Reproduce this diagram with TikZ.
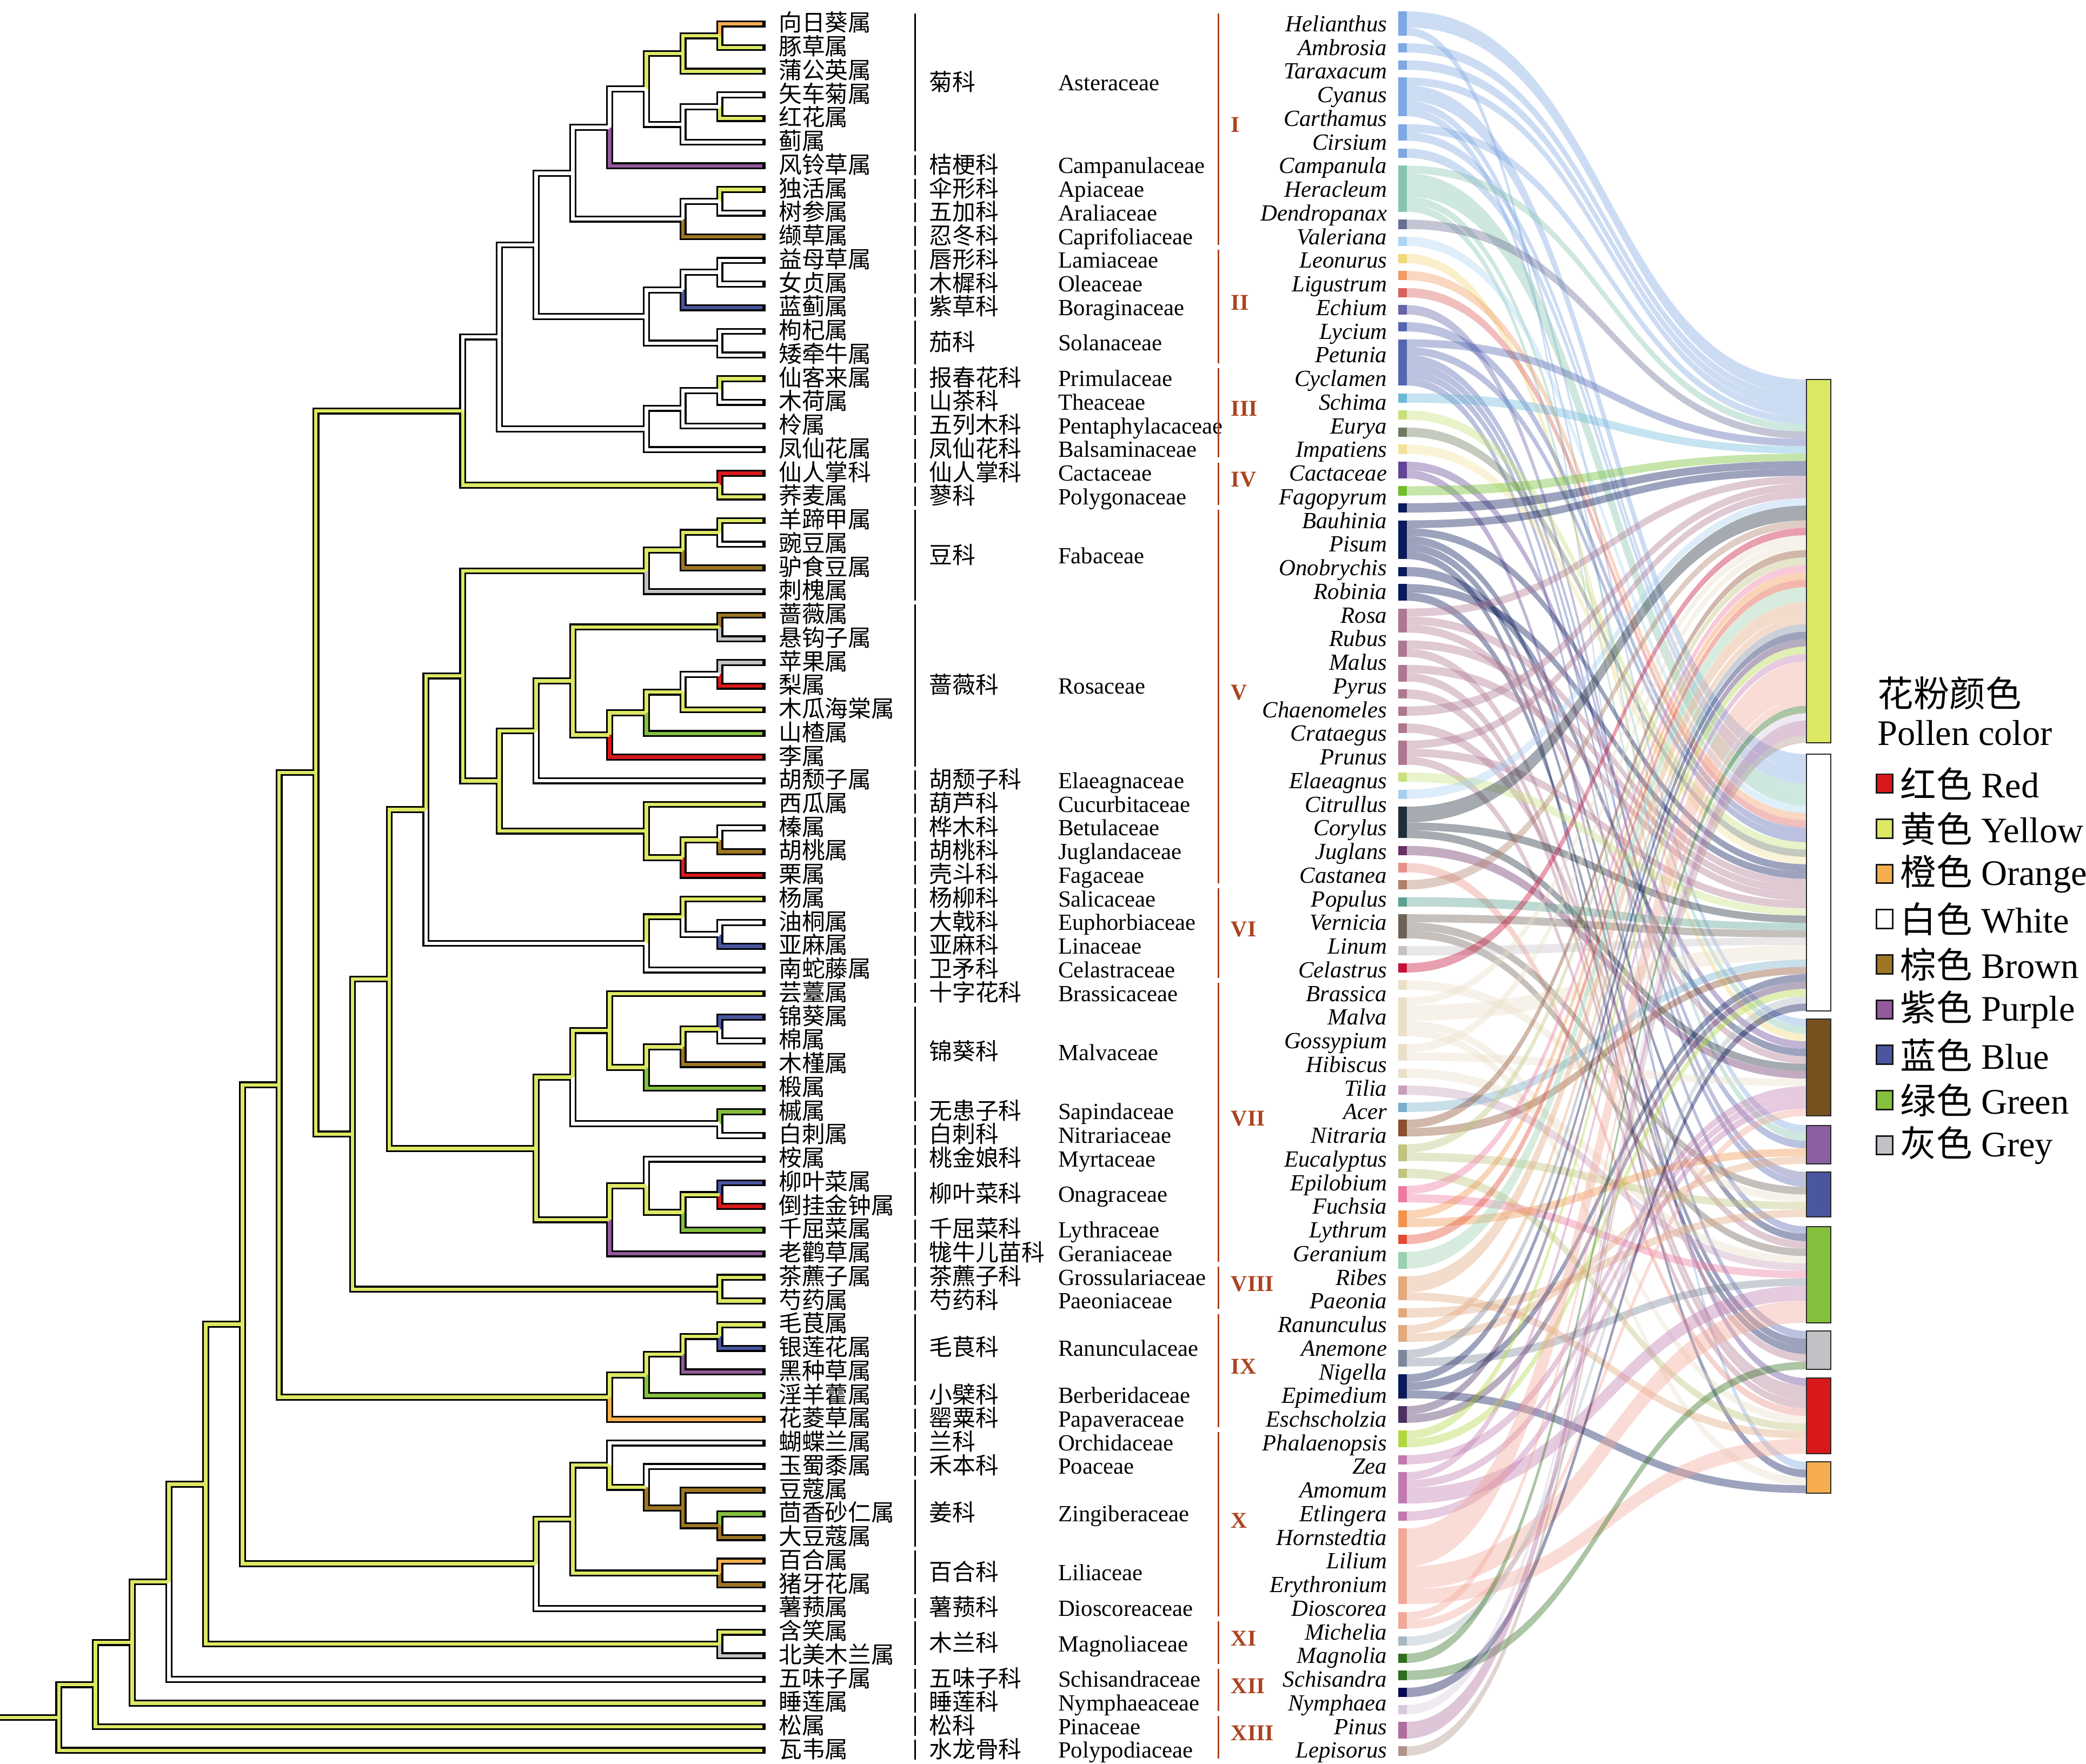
\documentclass[tikz,border=0pt]{standalone}
\usepackage{fontspec}
\setmainfont{Liberation Serif}
\newfontfamily\cjk{Noto Sans CJK SC}
\usepackage{tikz}
\usetikzlibrary{calc, positioning}

% pollen colours
\definecolor{pY}{RGB}{221,232,100}
\definecolor{pW}{RGB}{255,255,255}
\definecolor{pO}{RGB}{245,173,78}
\definecolor{pR}{RGB}{215,25,28}
\definecolor{pBr}{RGB}{158,118,35}
\definecolor{pP}{RGB}{146,90,154}
\definecolor{pB}{RGB}{74,86,160}
\definecolor{pG}{RGB}{132,192,60}
\definecolor{pGr}{RGB}{194,194,198}
\colorlet{barY}{pY}\colorlet{barW}{pW}\colorlet{barO}{pO}\colorlet{barR}{pR}
\definecolor{barBr}{RGB}{118,80,30}
\definecolor{barP}{RGB}{140,95,160}
\colorlet{barB}{pB}\colorlet{barG}{pG}\colorlet{barGr}{pGr}
\definecolor{romanc}{RGB}{172,68,32}
% family colours of the genus blocks
\definecolor{cAst}{RGB}{127,167,225}
\definecolor{cCam}{RGB}{136,197,176}
\definecolor{cApi}{RGB}{104,110,148}
\definecolor{cAra}{RGB}{173,212,243}
\definecolor{cCap}{RGB}{240,216,120}
\definecolor{cLam}{RGB}{240,154,100}
\definecolor{cOle}{RGB}{217,96,90}
\definecolor{cBor}{RGB}{102,99,168}
\definecolor{cSol}{RGB}{85,102,176}
\definecolor{cPri}{RGB}{111,184,218}
\definecolor{cThe}{RGB}{200,224,122}
\definecolor{cPen}{RGB}{110,122,94}
\definecolor{cBal}{RGB}{242,226,154}
\definecolor{cCac}{RGB}{99,68,150}
\definecolor{cPol}{RGB}{112,190,42}
\definecolor{cFab}{RGB}{10,26,90}
\definecolor{cRos}{RGB}{174,120,144}
\definecolor{cEla}{RGB}{201,224,127}
\definecolor{cCuc}{RGB}{169,207,239}
\definecolor{cBet}{RGB}{30,46,58}
\definecolor{cJug}{RGB}{106,47,101}
\definecolor{cFag}{RGB}{232,144,136}
\definecolor{cSal}{RGB}{176,127,104}
\definecolor{cEup}{RGB}{90,160,144}
\definecolor{cLin}{RGB}{110,98,87}
\definecolor{cCel}{RGB}{200,194,200}
\definecolor{cBra}{RGB}{197,16,58}
\definecolor{cMal}{RGB}{234,223,200}
\definecolor{cSap}{RGB}{200,160,188}
\definecolor{cNit}{RGB}{120,174,203}
\definecolor{cMyr}{RGB}{139,78,46}
\definecolor{cOna}{RGB}{191,196,126}
\definecolor{cLyt}{RGB}{238,122,159}
\definecolor{cGer}{RGB}{242,147,76}
\definecolor{cGro}{RGB}{226,74,50}
\definecolor{cPae}{RGB}{154,207,176}
\definecolor{cRan}{RGB}{226,168,126}
\definecolor{cBer}{RGB}{126,136,156}
\definecolor{cPap}{RGB}{10,26,90}
\definecolor{cOrc}{RGB}{75,48,96}
\definecolor{cPoa}{RGB}{178,216,64}
\definecolor{cZin}{RGB}{192,122,175}
\definecolor{cLil}{RGB}{242,168,152}
\definecolor{cDio}{RGB}{168,182,192}
\definecolor{cMag}{RGB}{47,110,30}
\definecolor{cSch}{RGB}{5,10,80}
\definecolor{cNym}{RGB}{216,200,220}
\definecolor{cPin}{RGB}{174,110,158}
\definecolor{cPly}{RGB}{176,148,136}

\tikzset{
  brout/.style={line width=2.6pt, draw=black, line cap=rect, line join=miter},
  brin/.style={line width=1.3pt, line cap=butt, line join=miter},
  zhname/.style={anchor=west, inner sep=0pt, font=\cjk\fontsize{8.7}{9}\selectfont, text height=1.55ex, text depth=.35ex},
  laname/.style={anchor=east, inner sep=0pt, font=\fontsize{8.7}{9}\selectfont\itshape, text height=1.6ex, text depth=.35ex},
  famzh/.style={anchor=west, inner sep=0pt, font=\cjk\fontsize{8.7}{9}\selectfont, text height=1.55ex, text depth=.35ex},
  famla/.style={anchor=west, inner sep=0pt, font=\fontsize{8.7}{9}\selectfont, text height=1.6ex, text depth=.35ex},
  famline/.style={line width=0.6pt},
  romline/.style={line width=0.6pt, draw=romanc},
  roman/.style={anchor=west, inner sep=0pt, text=romanc, font=\fontsize{8.5}{9}\selectfont\bfseries},
  flow/.style={fill opacity=.4},
  bar/.style={draw=black!85, line width=0.4pt},
  legbox/.style={draw=black!90, line width=0.6pt, minimum width=6pt, minimum height=7pt, inner sep=0pt},
  legtext/.style={anchor=west, inner sep=0pt, font=\fontsize{13.5}{14}\selectfont}
}

% clade: name, height level, first child, second child
\newcommand\clade[4]{%
  \coordinate (tmp) at ($(#3)!.5!(#4)$);
  \coordinate (#1) at (H#2 |- tmp);}

\begin{document}
\begin{tikzpicture}[x=0.5pt,y=0.5pt,yscale=-1]
\useasboundingbox (0,0) rectangle (1568,1326);

% levels and leaf tips
\coordinate (O) at (0,0);
\foreach \h in {1,...,19} \coordinate (H\h) at ({541-27.6*(\h-1)},0);
\foreach \i in {1,...,74} \coordinate (L\i) at (573,{17.78*\i+0.22});

% clades
\clade{a1}{1}{L1}{L2}
\clade{a2}{2}{a1}{L3}
\clade{a3}{1}{L4}{L5}
\clade{a4}{2}{a3}{L6}
\clade{a5}{3}{a2}{a4}
\clade{a6}{4}{a5}{L7}
\clade{a7}{1}{L8}{L9}
\clade{a8}{2}{a7}{L10}
\clade{a9}{5}{a6}{a8}
\clade{b1}{1}{L11}{L12}
\clade{b2}{2}{b1}{L13}
\clade{b3}{1}{L14}{L15}
\clade{b4}{3}{b2}{b3}
\clade{b5}{6}{a9}{b4}
\clade{c1}{1}{L16}{L17}
\clade{c2}{2}{c1}{L18}
\clade{c3}{3}{c2}{L19}
\clade{c4}{7}{b5}{c3}
\clade{d1}{1}{L20}{L21}
\clade{d2}{8}{c4}{d1}
\clade{e1}{1}{L22}{L23}
\clade{e2}{2}{e1}{L24}
\clade{e3}{3}{e2}{L25}
\clade{f1}{1}{L26}{L27}
\clade{f2}{1}{L28}{L29}
\clade{f3}{2}{f2}{L30}
\clade{f4}{3}{f3}{L31}
\clade{f5}{4}{f4}{L32}
\clade{f6}{5}{f1}{f5}
\clade{f7}{6}{f6}{L33}
\clade{g1}{1}{L35}{L36}
\clade{g2}{2}{g1}{L37}
\clade{g3}{3}{L34}{g2}
\clade{g4}{7}{f7}{g3}
\clade{g5}{8}{e3}{g4}
\clade{k1}{1}{L39}{L40}
\clade{k2}{2}{L38}{k1}
\clade{k3}{3}{k2}{L41}
\clade{k4}{9}{g5}{k3}
\clade{m1}{1}{L43}{L44}
\clade{m2}{2}{m1}{L45}
\clade{m3}{3}{m2}{L46}
\clade{m4}{4}{L42}{m3}
\clade{m5}{1}{L47}{L48}
\clade{m6}{5}{m4}{m5}
\clade{m7}{1}{L50}{L51}
\clade{m8}{2}{m7}{L52}
\clade{m9}{3}{L49}{m8}
\clade{m10}{4}{m9}{L53}
\clade{m11}{6}{m6}{m10}
\clade{r1}{10}{k4}{m11}
\clade{r2}{1}{L54}{L55}
\clade{r3}{11}{r1}{r2}
\clade{r4}{12}{d2}{r3}
\clade{s1}{1}{L56}{L57}
\clade{s2}{2}{s1}{L58}
\clade{s3}{3}{s2}{L59}
\clade{s4}{4}{s3}{L60}
\clade{s5}{13}{r4}{s4}
\clade{t1}{1}{L64}{L65}
\clade{t2}{2}{L63}{t1}
\clade{t3}{3}{L62}{t2}
\clade{t4}{4}{L61}{t3}
\clade{t5}{1}{L66}{L67}
\clade{t6}{5}{t4}{t5}
\clade{t7}{6}{t6}{L68}
\clade{t8}{14}{s5}{t7}
\clade{u1}{1}{L69}{L70}
\clade{u2}{15}{t8}{u1}
\clade{u3}{16}{u2}{L71}
\clade{u4}{17}{u3}{L72}
\clade{u5}{18}{u4}{L73}
\clade{u6}{19}{u5}{L74}
\coordinate (root) at (u6 -| O);

\def\branches{a1/L1/O, a1/L2/Y, a2/a1/Y, a2/L3/Y, a3/L4/W, a3/L5/Y, a4/a3/W, a4/L6/W,
  a5/a2/Y, a5/a4/W, a6/a5/W, a6/L7/P, a7/L8/Y, a7/L9/W, a8/a7/W, a8/L10/Br, a9/a6/W, a9/a8/W,
  b1/L11/W, b1/L12/W, b2/b1/W, b2/L13/B, b3/L14/W, b3/L15/W, b4/b2/W, b4/b3/W, b5/a9/W, b5/b4/W,
  c1/L16/Y, c1/L17/W, c2/c1/W, c2/L18/W, c3/c2/W, c3/L19/W, c4/b5/W, c4/c3/W,
  d1/L20/R, d1/L21/Y, d2/c4/W, d2/d1/Y,
  e1/L22/Y, e1/L23/W, e2/e1/Y, e2/L24/Br, e3/e2/Y, e3/L25/Gr,
  f1/L26/Br, f1/L27/Gr, f2/L28/Gr, f2/L29/R, f3/f2/W, f3/L30/Y, f4/f3/Y, f4/L31/G,
  f5/f4/Y, f5/L32/R, f6/f1/Y, f6/f5/Y, f7/f6/Y, f7/L33/W,
  g1/L35/W, g1/L36/Br, g2/g1/Y, g2/L37/R, g3/L34/Y, g3/g2/Y, g4/f7/Y, g4/g3/Y, g5/e3/Y, g5/g4/Y,
  k1/L39/W, k1/L40/B, k2/L38/Y, k2/k1/W, k3/k2/Y, k3/L41/W, k4/g5/Y, k4/k3/W,
  m1/L43/B, m1/L44/W, m2/m1/Y, m2/L45/Br, m3/m2/Y, m3/L46/G, m4/L42/Y, m4/m3/Y,
  m5/L47/G, m5/L48/W, m6/m4/Y, m6/m5/W, m7/L50/B, m7/L51/R, m8/m7/Y, m8/L52/G,
  m9/L49/W, m9/m8/Y, m10/m9/Y, m10/L53/P, m11/m6/Y, m11/m10/Y,
  r1/k4/Y, r1/m11/Y, r2/L54/Y, r2/L55/Y, r3/r1/Y, r3/r2/Y, r4/d2/Y, r4/r3/Y,
  s1/L56/Y, s1/L57/B, s2/s1/Y, s2/L58/P, s3/s2/Y, s3/L59/G, s4/s3/Y, s4/L60/O, s5/r4/Y, s5/s4/Y,
  t1/L64/G, t1/L65/Br, t2/L63/Br, t2/t1/Br, t3/L62/W, t3/t2/Br, t4/L61/W, t4/t3/Y,
  t5/L66/O, t5/L67/Br, t6/t4/Y, t6/t5/Y, t7/t6/Y, t7/L68/W, t8/s5/Y, t8/t7/Y,
  u1/L69/Y, u1/L70/Gr, u2/t8/Y, u2/u1/Y, u3/u2/Y, u3/L71/W, u4/u3/Y, u4/L72/Y,
  u5/u4/Y, u5/L73/Y, u6/u5/Y, u6/L74/Y, root/u6/Y}

% tree: black outline first, then the inner colour
\foreach \p/\q/\k in \branches {\draw[brout] (\p) |- (\q);}
\foreach \p/\q/\k in \branches {\draw[brin, draw=p\k] (\p) |- (\q);}

% genus names
\foreach \zh/\la [count=\i] in {向日葵属/Helianthus, 豚草属/Ambrosia, 蒲公英属/Taraxacum, 矢车菊属/Cyanus,
  红花属/Carthamus, 蓟属/Cirsium, 风铃草属/Campanula, 独活属/Heracleum, 树参属/Dendropanax,
  缬草属/Valeriana, 益母草属/Leonurus, 女贞属/Ligustrum, 蓝蓟属/Echium, 枸杞属/Lycium,
  矮牵牛属/Petunia, 仙客来属/Cyclamen, 木荷属/Schima, 柃属/Eurya, 凤仙花属/Impatiens,
  仙人掌科/Cactaceae, 荞麦属/Fagopyrum, 羊蹄甲属/Bauhinia, 豌豆属/Pisum, 驴食豆属/Onobrychis,
  刺槐属/Robinia, 蔷薇属/Rosa, 悬钩子属/Rubus, 苹果属/Malus, 梨属/Pyrus, 木瓜海棠属/Chaenomeles,
  山楂属/Crataegus, 李属/Prunus, 胡颓子属/Elaeagnus, 西瓜属/Citrullus, 榛属/Corylus,
  胡桃属/Juglans, 栗属/Castanea, 杨属/Populus, 油桐属/Vernicia, 亚麻属/Linum, 南蛇藤属/Celastrus,
  芸薹属/Brassica, 锦葵属/Malva, 棉属/Gossypium, 木槿属/Hibiscus, 椴属/Tilia, 槭属/Acer,
  白刺属/Nitraria, 桉属/Eucalyptus, 柳叶菜属/Epilobium, 倒挂金钟属/Fuchsia, 千屈菜属/Lythrum,
  老鹳草属/Geranium, 茶藨子属/Ribes, 芍药属/Paeonia, 毛茛属/Ranunculus, 银莲花属/Anemone,
  黑种草属/Nigella, 淫羊藿属/Epimedium, 花菱草属/Eschscholzia, 蝴蝶兰属/Phalaenopsis,
  玉蜀黍属/Zea, 豆蔻属/Amomum, 茴香砂仁属/Etlingera, 大豆蔻属/Hornstedtia, 百合属/Lilium,
  猪牙花属/Erythronium, 薯蓣属/Dioscorea, 含笑属/Michelia, 北美木兰属/Magnolia,
  五味子属/Schisandra, 睡莲属/Nymphaea, 松属/Pinus, 瓦韦属/Lepisorus}{
  \node[zhname] (zh\i) at (585,{17.78*\i+0.22}) {\zh};
  \node[laname] (la\i) at (1043,{17.78*\i+0.22}) {\la};
}

% families
\foreach \fa/\fb/\zh/\la [count=\i] in {1/6/菊科/Asteraceae, 7/7/桔梗科/Campanulaceae, 8/8/伞形科/Apiaceae,
  9/9/五加科/Araliaceae, 10/10/忍冬科/Caprifoliaceae, 11/11/唇形科/Lamiaceae, 12/12/木樨科/Oleaceae,
  13/13/紫草科/Boraginaceae, 14/15/茄科/Solanaceae, 16/16/报春花科/Primulaceae, 17/17/山茶科/Theaceae,
  18/18/五列木科/Pentaphylacaceae, 19/19/凤仙花科/Balsaminaceae, 20/20/仙人掌科/Cactaceae,
  21/21/蓼科/Polygonaceae, 22/25/豆科/Fabaceae, 26/32/蔷薇科/Rosaceae, 33/33/胡颓子科/Elaeagnaceae,
  34/34/葫芦科/Cucurbitaceae, 35/35/桦木科/Betulaceae, 36/36/胡桃科/Juglandaceae, 37/37/壳斗科/Fagaceae,
  38/38/杨柳科/Salicaceae, 39/39/大戟科/Euphorbiaceae, 40/40/亚麻科/Linaceae, 41/41/卫矛科/Celastraceae,
  42/42/十字花科/Brassicaceae, 43/46/锦葵科/Malvaceae, 47/47/无患子科/Sapindaceae,
  48/48/白刺科/Nitrariaceae, 49/49/桃金娘科/Myrtaceae, 50/51/柳叶菜科/Onagraceae,
  52/52/千屈菜科/Lythraceae, 53/53/牻牛儿苗科/Geraniaceae, 54/54/茶藨子科/Grossulariaceae,
  55/55/芍药科/Paeoniaceae, 56/58/毛茛科/Ranunculaceae, 59/59/小檗科/Berberidaceae,
  60/60/罂粟科/Papaveraceae, 61/61/兰科/Orchidaceae, 62/62/禾本科/Poaceae, 63/65/姜科/Zingiberaceae,
  66/67/百合科/Liliaceae, 68/68/薯蓣科/Dioscoreaceae, 69/70/木兰科/Magnoliaceae,
  71/71/五味子科/Schisandraceae, 72/72/睡莲科/Nymphaeaceae, 73/73/松科/Pinaceae,
  74/74/水龙骨科/Polypodiaceae}{
  \draw[famline] (688,{17.78*\fa+0.22-8}) -- (688,{17.78*\fb+0.22+7});
  \node[famzh] (fz\i) at (698,{17.78*(\fa+\fb)/2+0.22}) {\zh};
  \node[famla] (fl\i) at (795,{17.78*(\fa+\fb)/2+0.22}) {\la};
}

% orders
\foreach \fa/\fb/\rn [count=\i] in {1/10/I, 11/15/II, 16/19/III, 20/21/IV, 22/37/V, 38/41/VI,
  42/53/VII, 54/55/VIII, 56/60/IX, 61/68/X, 69/70/XI, 71/72/XII, 73/74/XIII}{
  \draw[romline] (916,{17.78*\fa+0.22-8}) -- (916,{17.78*\fb+0.22+6});
  \node[roman] (or\i) at (925,{17.78*(\fa+\fb)/2+0.22-4}) {\rn};
}

% flows from genus blocks to the pollen colour bars
\def\topY{285.3}\def\uY{5.5755}\def\kY{0}
\def\topW{567}\def\uW{5.514}\def\kW{0}
\def\topBr{766}\def\uBr{5.615}\def\kBr{0}
\def\topP{846}\def\uP{5.8}\def\kP{0}
\def\topB{881}\def\uB{5.667}\def\kB{0}
\def\topG{922}\def\uG{5.577}\def\kG{0}
\def\topGr{1000.6}\def\uGr{5.78}\def\kGr{0}
\def\topR{1036}\def\uR{5.7}\def\kR{0}
\def\topO{1099}\def\uO{5.875}\def\kO{0}
\xdef\sy{8.6}
\foreach \gc/\gn/\gl in {cAst/3/{Y,Y,O}, cAst/1/{Y}, cAst/1/{Y}, cAst/5/{Y,W,W,Br,P}, cAst/2/{Y,W},
  cAst/1/{W}, cCam/6/{Y,W,W,W,Br,P}, cApi/1/{Y}, cAra/1/{W}, cCap/1/{Br}, cLam/1/{W}, cOle/1/{W},
  cBor/1/{B}, cSol/1/{W}, cSol/6/{Y,W,P,B,G,Gr}, cPri/1/{Y}, cThe/1/{W}, cPen/1/{W}, cBal/1/{W},
  cCac/2/{Br,R}, cPol/1/{Y}, cFab/1/{Y}, cFab/5/{Y,W,G,Gr,O}, cFab/1/{Br}, cFab/2/{W,Gr},
  cRos/3/{Y,W,Br}, cRos/2/{W,Gr}, cRos/2/{W,R}, cRos/1/{R}, cRos/1/{Y}, cRos/1/{G}, cRos/3/{Y,W,R},
  cEla/1/{W}, cCuc/1/{Y}, cBet/4/{Y,Y,W,Br}, cJug/1/{Br}, cFag/1/{R}, cSal/1/{Y}, cEup/1/{W},
  cLin/3/{W,B,G}, cCel/1/{W}, cBra/1/{Y}, cMal/1/{B}, cMal/5/{Y,W,W,R,O}, cMal/2/{Y,Br}, cMal/1/{G},
  cSap/1/{G}, cNit/1/{W}, cMyr/2/{Y,W}, cOna/2/{Y,B}, cOna/1/{R}, cLyt/2/{Y,G}, cGer/2/{Y,P},
  cGro/1/{Y}, cPae/2/{Y,Y}, cRan/3/{Y,Y,R}, cRan/1/{B}, cRan/2/{Y,P}, cBer/2/{Y,G}, cPap/3/{Y,W,O},
  cOrc/2/{Y,W}, cPoa/2/{Y,W}, cZin/1/{Br}, cZin/4/{Y,Br,G,G}, cZin/1/{Br},
  cLil/10/{Y,Y,Y,Y,Y,G,G,G,R,R}, cLil/2/{Y,Br}, cDio/1/{W}, cMag/1/{Y}, cMag/1/{Gr}, cSch/1/{W},
  cNym/1/{Y}, cPin/2/{Y,Y}, cPly/1/{Y}}{
  \pgfmathsetmacro\sh{1.45+5.55*\gn}
  \pgfmathsetmacro\fu{\sh/\gn}
  \foreach \tg [count=\j] in \gl {
    \edef\tp{\csname top\tg\endcsname}\edef\tu{\csname u\tg\endcsname}\edef\tk{\csname k\tg\endcsname}
    \pgfmathsetmacro\ya{\sy+(\j-1)*\fu}
    \pgfmathsetmacro\yb{\ya+\fu}
    \pgfmathsetmacro\ta{\tp+\tk*\tu}
    \pgfmathsetmacro\tb{\ta+\tu}
    \fill[\gc, flow] (1057.5,\ya) .. controls (1208,\ya) and (1208,\ta) .. (1358,\ta)
      -- (1358,\tb) .. controls (1208,\tb) and (1208,\yb) .. (1057.5,\yb) -- cycle;
    \pgfmathtruncatemacro\kn{\tk+1}
    \expandafter\xdef\csname k\tg\endcsname{\kn}
  }
  \fill[\gc] (1051,\sy) rectangle ++(6.5,\sh);
  \pgfmathsetmacro\sn{\sy+\sh+5.85}
  \xdef\sy{\sn}
}

% pollen colour bars
\foreach \k/\ba/\bb in {Y/285.3/558.5, W/567/760, Br/766/839, P/846/875, B/881/915,
  G/922/994.5, Gr/1000.6/1029.5, R/1036/1093, O/1099/1122.5}{
  \filldraw[bar, fill=bar\k] (1358,\ba) rectangle (1376,\bb);
}

% legend
\node[legtext, font=\cjk\fontsize{13.5}{14}\selectfont] (lgt) at (1411,521) {花粉颜色};
\node[legtext] (lgs) at (1411,551) {Pollen color};
\foreach \k/\zh/\en [count=\i] in {R/红色/Red, Y/黄色/Yellow, O/橙色/Orange, W/白色/White,
  Br/棕色/Brown, P/紫色/Purple, B/蓝色/Blue, G/绿色/Green, Gr/灰色/Grey}{
  \node[legbox, fill=p\k] (lb\i) at (1416.5,{555+34*\i}) {};
  \node[legtext, right=2.5pt of lb\i] (lt\i) {{\cjk\zh} \en};
}
\end{tikzpicture}
\end{document}
